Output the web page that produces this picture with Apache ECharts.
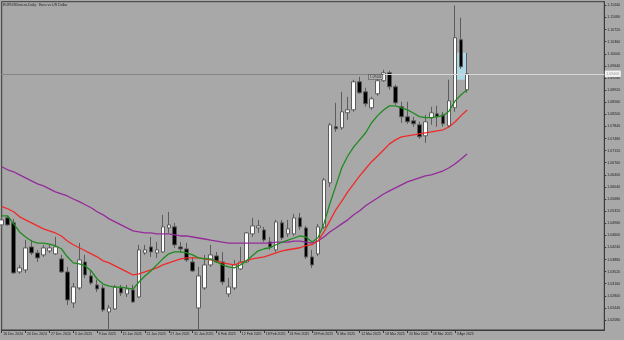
<!DOCTYPE html>
<html><head><meta charset="utf-8">
<script src="https://cdn.jsdelivr.net/npm/echarts@6/dist/echarts.min.js"></script>
<style>html,body{margin:0;padding:0;background:#a8a8a8;}#c{width:624px;height:340px;}</style>
</head><body><div id="c"></div>
<script>
const titleText = 'EURUSDmicro,Daily:  Euro vs US Dollar';
const dates = ['16 Dec 2024','17 Dec 2024','18 Dec 2024','19 Dec 2024','20 Dec 2024','23 Dec 2024','24 Dec 2024','26 Dec 2024','27 Dec 2024','30 Dec 2024',
'31 Dec 2024','2 Jan 2025','3 Jan 2025','6 Jan 2025','7 Jan 2025','8 Jan 2025','9 Jan 2025','10 Jan 2025','13 Jan 2025','14 Jan 2025',
'15 Jan 2025','16 Jan 2025','17 Jan 2025','20 Jan 2025','21 Jan 2025','22 Jan 2025','23 Jan 2025','24 Jan 2025','27 Jan 2025','28 Jan 2025',
'29 Jan 2025','30 Jan 2025','31 Jan 2025','3 Feb 2025','4 Feb 2025','5 Feb 2025','6 Feb 2025','7 Feb 2025','10 Feb 2025','11 Feb 2025',
'12 Feb 2025','13 Feb 2025','14 Feb 2025','17 Feb 2025','18 Feb 2025','19 Feb 2025','20 Feb 2025','21 Feb 2025','24 Feb 2025','25 Feb 2025',
'26 Feb 2025','27 Feb 2025','28 Feb 2025','3 Mar 2025','4 Mar 2025','5 Mar 2025','6 Mar 2025','7 Mar 2025','10 Mar 2025','11 Mar 2025',
'12 Mar 2025','13 Mar 2025','14 Mar 2025','17 Mar 2025','18 Mar 2025','19 Mar 2025','20 Mar 2025','21 Mar 2025','24 Mar 2025','25 Mar 2025',
'26 Mar 2025','27 Mar 2025','28 Mar 2025','31 Mar 2025','1 Apr 2025','2 Apr 2025','3 Apr 2025','4 Apr 2025','7 Apr 2025'];
const opens = [1.04910,1.05119,1.04970,1.03511,1.03570,1.04255,1.04076,1.04017,1.04136,1.04047,
1.03898,1.03511,1.02588,1.03034,1.03808,1.03392,1.03124,1.03034,1.02320,1.02409,
1.03034,1.02856,1.02975,1.02766,1.04076,1.04255,1.04076,1.04106,1.04821,1.04851,
1.04255,1.04196,1.03808,1.02439,1.03034,1.03719,1.03987,1.03808,1.02856,1.03034,
1.03600,1.03808,1.04642,1.04821,1.04761,1.04404,1.04166,1.04970,1.04642,1.04642,
1.05119,1.04821,1.03957,1.04047,1.04851,1.06161,1.07828,1.07798,1.08245,1.08334,
1.09168,1.08870,1.08394,1.08810,1.09198,1.09436,1.09019,1.08423,1.08126,1.08006,
1.07887,1.07560,1.08096,1.08215,1.08185,1.07858,1.08394,1.10419,1.08930];
const closes = [1.05059,1.04910,1.03481,1.03630,1.04225,1.04076,1.03928,1.04225,1.04225,1.04255,
1.03511,1.02677,1.03064,1.03868,1.03421,1.03183,1.03004,1.02379,1.02439,1.03064,
1.02885,1.03004,1.02617,1.04166,1.04166,1.04106,1.04166,1.04851,1.04910,1.04315,
1.04196,1.03868,1.03540,1.03392,1.03719,1.04017,1.03808,1.03213,1.03064,1.03719,
1.03808,1.04672,1.04880,1.04880,1.04464,1.04255,1.05000,1.04523,1.04791,1.05119,
1.04851,1.03957,1.03719,1.04851,1.06250,1.07887,1.07768,1.08275,1.08334,1.09168,
1.08840,1.08513,1.08662,1.09198,1.09436,1.09019,1.08542,1.08126,1.07977,1.07917,
1.07530,1.07977,1.08245,1.08126,1.07917,1.08602,1.10478,1.09615,1.09406];
const lows = [1.04821,1.04880,1.03451,1.03451,1.03481,1.04017,1.03808,1.03957,1.04076,1.04017,
1.03481,1.02528,1.02439,1.02975,1.03332,1.03124,1.02915,1.02320,1.01813,1.02379,
1.02796,1.02766,1.02588,1.02736,1.04017,1.03957,1.03928,1.04076,1.04672,1.04225,
1.04076,1.03808,1.03511,1.01790,1.02975,1.03660,1.03779,1.03124,1.02766,1.02975,
1.03570,1.03779,1.04553,1.04672,1.04404,1.04166,1.04106,1.04464,1.04553,1.04583,
1.04761,1.03898,1.03630,1.03987,1.04791,1.06041,1.07679,1.07739,1.08036,1.08275,
1.08810,1.08423,1.08334,1.08751,1.09168,1.08930,1.08483,1.07947,1.07917,1.07828,
1.07471,1.07352,1.07887,1.07828,1.07828,1.07798,1.08275,1.09555,1.08840];
const highs = [1.05148,1.05178,1.05089,1.03719,1.04464,1.04464,1.04166,1.04315,1.04315,1.04553,
1.04017,1.03660,1.03183,1.04374,1.04017,1.03570,1.03272,1.03124,1.02528,1.03124,
1.03124,1.03124,1.03124,1.04315,1.04315,1.04553,1.04404,1.05208,1.05297,1.04970,
1.04404,1.04374,1.03957,1.03660,1.04017,1.04315,1.04106,1.04106,1.03332,1.03868,
1.04255,1.04702,1.05119,1.05059,1.04851,1.04553,1.05059,1.05059,1.05059,1.05238,
1.05267,1.04880,1.04166,1.04940,1.06310,1.07947,1.08542,1.08870,1.08721,1.09228,
1.09317,1.08989,1.08721,1.09287,1.09525,1.09495,1.09079,1.08572,1.08572,1.08126,
1.07977,1.08185,1.08423,1.08453,1.08275,1.09228,1.11440,1.11074,1.10032];
const maFast = [1.0518,1.0518,1.0494,1.0470,1.0455,1.0443,1.0437,1.0437,1.0434,1.0429,
1.0420,1.0396,1.0378,1.0375,1.0369,1.0354,1.0330,1.0315,1.0309,1.0306,
1.0306,1.0303,1.0300,1.0321,1.0339,1.0354,1.0372,1.0390,1.0405,1.0411,
1.0411,1.0408,1.0402,1.0393,1.0390,1.0390,1.0381,1.0372,1.0366,1.0363,
1.0372,1.0384,1.0399,1.0414,1.0420,1.0423,1.0432,1.0440,1.0446,1.0452,
1.0458,1.0455,1.0440,1.0452,1.0494,1.0554,1.0607,1.0661,1.0696,1.0723,
1.0744,1.0765,1.0795,1.0816,1.0833,1.0845,1.0845,1.0839,1.0833,1.0824,
1.0813,1.0810,1.0810,1.0813,1.0816,1.0830,1.0860,1.0878,1.0893];
const maMid = [1.0545,1.0539,1.0530,1.0515,1.0506,1.0497,1.0488,1.0479,1.0473,1.0467,
1.0458,1.0443,1.0432,1.0423,1.0414,1.0405,1.0396,1.0384,1.0378,1.0369,
1.0360,1.0351,1.0342,1.0345,1.0351,1.0357,1.0363,1.0372,1.0378,1.0384,
1.0390,1.0393,1.0393,1.0393,1.0390,1.0387,1.0384,1.0378,1.0375,1.0372,
1.0378,1.0384,1.0390,1.0393,1.0396,1.0402,1.0408,1.0414,1.0417,1.0420,
1.0423,1.0429,1.0432,1.0443,1.0470,1.0503,1.0536,1.0562,1.0589,1.0613,
1.0637,1.0658,1.0679,1.0696,1.0714,1.0732,1.0744,1.0753,1.0756,1.0759,
1.0762,1.0765,1.0768,1.0771,1.0774,1.0783,1.0798,1.0816,1.0833];
const maSlow = [1.0664,1.0655,1.0649,1.0640,1.0631,1.0622,1.0613,1.0607,1.0598,1.0589,
1.0583,1.0577,1.0568,1.0560,1.0551,1.0542,1.0530,1.0521,1.0509,1.0500,
1.0491,1.0482,1.0473,1.0470,1.0467,1.0467,1.0464,1.0464,1.0464,1.0461,
1.0458,1.0458,1.0455,1.0452,1.0449,1.0446,1.0443,1.0440,1.0437,1.0437,
1.0437,1.0437,1.0437,1.0437,1.0437,1.0437,1.0440,1.0440,1.0440,1.0443,
1.0443,1.0440,1.0437,1.0443,1.0455,1.0470,1.0482,1.0494,1.0506,1.0521,
1.0533,1.0548,1.0560,1.0571,1.0583,1.0592,1.0601,1.0610,1.0619,1.0625,
1.0631,1.0637,1.0640,1.0646,1.0652,1.0661,1.0673,1.0687,1.0702];
const yTickValues = [1.1144,1.1108,1.1072,1.1036,1.1000,1.0964,1.0928,1.0892,1.0856,1.0820,1.0784,1.0748,1.0712,1.0676,
1.0640,1.0604,1.0568,1.0532,1.0496,1.0460,1.0424,1.0388,1.0352,1.0316,1.0280,1.0244,1.0208];
const yMin = 1.01783, yMax = 1.11550;
const bidPrice = 1.09406;
const hlineEnd = '18 Mar 2025';
const boxStart = '3 Apr 2025', boxEnd = '7 Apr 2025';
const boxTop = 1.10032, boxBottom = 1.09228;
const emptySlots = 23;

const xCats = dates.concat(new Array(emptySlots).fill(''));
const lastIdx = xCats.length - 1;
const candleData = dates.map((d, i) => [opens[i], closes[i], lows[i], highs[i]]);
const font = 'Liberation Sans';
const frame = '#3a3a3a';
const chart = echarts.init(document.getElementById('c'), null, {renderer: 'canvas'});
chart.setOption({
  animation: false,
  backgroundColor: '#a8a8a8',
  title: {text: titleText, left: 3, top: 2.5, padding: 0,
    textStyle: {fontSize: 3.6, fontWeight: 'normal', color: '#1e1e1e', fontFamily: font}},
  grid: {left: 1.7, right: 19.7, top: 1.7, bottom: 10, show: true, borderColor: frame, borderWidth: 1, backgroundColor: 'transparent'},
  xAxis: {type: 'category', data: xCats, boundaryGap: false,
    axisLine: {show: true, lineStyle: {color: frame, width: 1}},
    axisTick: {show: true, interval: (i, v) => v !== '' && i % 4 === 0, length: 3, lineStyle: {color: frame}},
    axisLabel: {show: true, interval: (i, v) => v !== '' && i % 4 === 0, align: 'left', margin: 2, fontSize: 3.5,
      color: '#1e1e1e', fontFamily: font, padding: [0, 0, 0, 1.5]},
    splitLine: {show: false}},
  yAxis: {type: 'value', position: 'right', min: yMin, max: yMax,
    axisLine: {show: true, lineStyle: {color: frame}},
    axisTick: {show: true, customValues: yTickValues, length: 2, lineStyle: {color: frame}},
    axisLabel: {show: true, customValues: yTickValues, formatter: v => v.toFixed(5), fontSize: 3.6, color: '#1e1e1e', margin: 3, fontFamily: font},
    splitLine: {show: false}},
  series: [
    {type: 'line', data: dates.map(() => null), z: 1, silent: true, showSymbol: false,
      markArea: {silent: true, itemStyle: {color: '#add8e6'},
        data: [[{xAxis: boxStart, yAxis: boxTop}, {xAxis: boxEnd, yAxis: boxBottom}]]}},
    {type: 'line', data: dates.map(() => null), z: 1, silent: true, showSymbol: false,
      markLine: {silent: true, symbol: ['none', 'none'], animation: false,
        data: [
          [{xAxis: 0, yAxis: bidPrice, lineStyle: {color: '#d6d6d6', width: 1, type: 'solid'},
             label: {show: true, position: 'end', distance: 0.5, formatter: bidPrice.toFixed(5), backgroundColor: '#f2f2f2',
               color: '#9a9a9a', fontSize: 3.6, padding: [1.2, 1.5], fontFamily: font}},
           {xAxis: lastIdx, yAxis: bidPrice}],
          [{xAxis: 0, yAxis: bidPrice, lineStyle: {color: '#858585', width: 1, type: 'solid'},
             label: {show: true, position: 'insideEndBottom', distance: [1, 1], formatter: bidPrice.toFixed(5),
               backgroundColor: '#b4b4b4', borderColor: '#4a4a4a', borderWidth: 0.6, color: '#2a2a2a', fontSize: 3.3,
               padding: [0.6, 1], fontFamily: font}},
           {xAxis: hlineEnd, yAxis: bidPrice}]
        ]}},
    {type: 'candlestick', data: candleData, barWidth: 4, z: 2, clip: true,
      itemStyle: {color: '#ffffff', color0: '#000000', borderColor: '#5c5c5c', borderColor0: '#5c5c5c', borderWidth: 1}},
    {type: 'line', data: maSlow, showSymbol: false, z: 3, lineStyle: {color: '#952a9a', width: 1.3}},
    {type: 'line', data: maMid, showSymbol: false, z: 3, lineStyle: {color: '#f02a2a', width: 1.3}},
    {type: 'line', data: maFast, showSymbol: false, z: 3, lineStyle: {color: '#1f8a1f', width: 1.3}}
  ]
});
</script>
</body></html>
